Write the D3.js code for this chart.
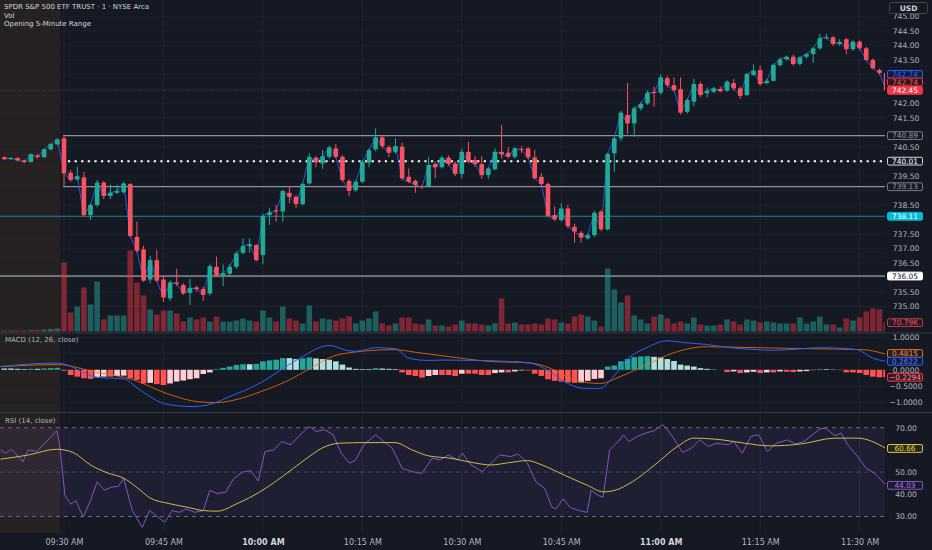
<!DOCTYPE html>
<html>
<head>
<meta charset="utf-8">
<title>SPY 1m</title>
<script src="https://cdn.jsdelivr.net/npm/d3@7/dist/d3.min.js"></script>
<style>
  html, body { margin: 0; padding: 0; background: #151924; overflow: hidden; }
  svg { display: block; }
</style>
</head>
<body>
<svg id="chart"></svg>
<script>
// minute offset from 09:30 (premarket = negative)
var minutes = d3.range(-9, 125);

var opens = [740.15, 740.08, 740.12, 740.04, 739.98, 740.20, 740.15, 740.42, 740.59,
  740.80, 739.61, 739.38, 739.45, 738.15, 738.50, 739.27, 738.81, 738.92, 738.94,
  739.22, 737.40, 736.97, 735.93, 736.60, 735.93, 735.28, 735.83, 735.74, 735.47,
  735.66, 735.60, 735.45, 736.37, 736.08, 736.13, 736.37, 736.85, 737.08, 737.12,
  736.77, 738.15, 738.32, 738.27, 738.92, 738.78, 738.53, 739.24, 740.13, 739.93,
  740.16, 740.45, 740.16, 739.33, 739.01, 739.30, 739.96, 740.42, 740.83, 740.49,
  740.33, 740.51, 739.47, 739.33, 739.15, 739.15, 739.91, 739.80, 740.13, 739.93,
  739.57, 740.33, 740.05, 739.91, 739.53, 739.73, 740.33, 740.30, 740.16, 740.43,
  740.45, 740.14, 739.47, 739.22, 738.15, 737.98, 738.38, 737.75, 737.54, 737.35,
  737.46, 738.27, 737.66, 740.28, 740.80, 741.60, 741.31, 741.83, 742.00, 742.40,
  742.37, 742.87, 742.63, 742.49, 741.71, 742.06, 742.67, 742.35, 742.40, 742.50,
  742.44, 742.70, 742.52, 742.29, 742.98, 743.15, 742.70, 742.78, 743.32, 743.52,
  743.61, 743.36, 743.61, 743.70, 743.90, 744.25, 744.28, 744.05, 744.21, 743.87,
  744.13, 743.90, 743.50, 743.15, 743.05];

var highs = [740.18, 740.14, 740.15, 740.06, 740.28, 740.26, 740.45, 740.62, 740.80,
  740.89, 739.70, 739.82, 739.64, 738.55, 739.36, 739.32, 739.20, 739.20, 739.30,
  739.25, 737.92, 737.10, 736.75, 736.95, 736.05, 735.90, 736.30, 735.80, 735.95,
  735.72, 735.68, 736.45, 736.72, 736.45, 736.45, 736.90, 737.35, 737.35, 737.15,
  738.20, 738.39, 738.50, 739.03, 739.13, 738.85, 739.28, 740.28, 740.18, 740.40,
  740.55, 740.60, 740.22, 739.40, 739.35, 740.05, 740.45, 741.14, 740.90, 740.55,
  740.80, 740.65, 739.76, 739.38, 739.20, 740.16, 739.98, 740.20, 740.20, 740.00,
  740.45, 740.68, 740.18, 740.18, 739.80, 740.45, 741.26, 740.50, 740.50, 740.52,
  740.50, 740.40, 739.60, 739.28, 738.45, 738.55, 738.50, 737.85, 737.60, 737.52,
  738.30, 738.32, 740.30, 740.85, 741.75, 742.71, 741.90, 742.05, 742.45, 742.58,
  743.00, 742.95, 742.90, 742.90, 742.18, 742.85, 742.75, 742.55, 742.58, 742.58,
  742.80, 742.85, 742.58, 743.05, 743.35, 743.30, 742.85, 743.38, 743.58, 743.65,
  743.68, 743.62, 743.75, 743.95, 744.40, 744.40, 744.33, 744.22, 744.26, 744.18,
  744.18, 743.95, 743.55, 743.20, 743.08];

var lows = [740.05, 740.05, 740.00, 739.94, 739.96, 740.10, 740.12, 740.38, 740.55,
  739.13, 739.30, 739.33, 738.10, 737.98, 738.42, 738.70, 738.70, 738.88, 738.90,
  737.38, 736.85, 735.85, 735.80, 735.85, 735.16, 735.20, 735.70, 735.40, 735.05,
  735.52, 735.20, 735.38, 736.02, 735.70, 736.05, 736.30, 736.80, 736.85, 736.55,
  736.45, 737.81, 737.92, 737.92, 738.56, 738.40, 738.48, 739.20, 739.80, 739.75,
  740.10, 740.12, 739.30, 738.81, 738.95, 739.25, 739.80, 740.35, 740.45, 740.15,
  740.28, 739.35, 739.25, 738.92, 739.05, 739.10, 739.42, 739.75, 739.85, 739.50,
  739.42, 739.95, 739.82, 739.40, 739.40, 739.70, 740.10, 740.10, 740.10, 740.30,
  740.08, 739.38, 739.15, 738.08, 737.95, 737.92, 737.70, 737.20, 737.20, 737.30,
  737.40, 737.60, 737.62, 739.64, 740.70, 740.95, 740.85, 741.75, 741.95, 741.89,
  742.30, 742.55, 742.40, 741.62, 741.65, 741.90, 742.22, 742.20, 742.35, 742.38,
  742.40, 742.45, 742.15, 742.25, 742.95, 742.60, 742.65, 742.75, 743.28, 743.48,
  743.30, 743.30, 743.55, 743.40, 743.85, 744.20, 743.98, 743.98, 743.70, 743.82,
  743.85, 743.45, 743.18, 742.98, 742.40];

var closes = [740.08, 740.12, 740.04, 739.98, 740.25, 740.15, 740.42, 740.60, 740.76,
  739.59, 739.36, 739.49, 738.15, 738.50, 739.27, 738.81, 738.92, 738.98, 739.24,
  737.43, 736.92, 735.89, 736.60, 735.89, 735.31, 735.83, 735.78, 735.45, 735.64,
  735.60, 735.40, 736.39, 736.08, 736.15, 736.37, 736.83, 737.08, 737.15, 736.60,
  738.12, 738.25, 738.28, 738.98, 738.78, 738.53, 739.22, 740.16, 739.97, 740.18,
  740.48, 740.16, 739.36, 738.99, 739.30, 739.99, 740.39, 740.83, 740.53, 740.30,
  740.53, 739.42, 739.30, 739.19, 739.12, 739.88, 739.80, 740.13, 739.91, 739.57,
  740.33, 739.99, 739.91, 739.53, 739.76, 740.33, 740.25, 740.16, 740.45, 740.40,
  740.14, 739.42, 739.22, 738.12, 738.00, 738.38, 737.77, 737.58, 737.38, 737.46,
  738.23, 737.66, 740.26, 740.80, 741.68, 741.31, 741.83, 741.98, 742.37, 742.36,
  742.90, 742.63, 742.46, 741.68, 742.12, 742.67, 742.29, 742.44, 742.52, 742.42,
  742.75, 742.52, 742.26, 743.01, 743.13, 742.67, 742.78, 743.33, 743.52, 743.61,
  743.36, 743.59, 743.70, 743.90, 744.25, 744.28, 744.05, 744.12, 743.87, 744.13,
  743.90, 743.50, 743.21, 743.05, 742.45];

// volume in thousands
var volumes = [8, 8, 8, 8, 10, 12, 16, 20, 24,
  552, 152, 200, 352, 216, 400, 96, 128, 128, 128,
  648, 392, 288, 176, 136, 168, 168, 144, 80, 112,
  96, 112, 80, 120, 80, 80, 88, 104, 88, 80,
  168, 112, 80, 200, 104, 88, 64, 208, 80, 104,
  96, 88, 104, 120, 64, 88, 104, 160, 64, 48,
  64, 112, 112, 64, 56, 96, 48, 48, 40, 56,
  88, 64, 64, 56, 48, 64, 264, 64, 72, 56,
  56, 64, 56, 104, 96, 72, 64, 120, 136, 120,
  88, 40, 504, 336, 232, 288, 128, 96, 64, 120,
  136, 104, 64, 80, 64, 112, 56, 48, 48, 56,
  96, 80, 56, 96, 88, 72, 80, 72, 64, 64,
  64, 112, 64, 80, 120, 56, 56, 32, 104, 88,
  112, 160, 184, 176, 70.79];

// MACD histogram, one per bar
var macdHist = [0.04, 0.04, 0.03, 0.02, 0.03, 0.03, 0.04, 0.05, 0.06,
  -0.03, -0.16, -0.21, -0.26, -0.28, -0.23, -0.21, -0.21, -0.19, -0.18,
  -0.26, -0.31, -0.42, -0.40, -0.44, -0.47, -0.42, -0.36, -0.33, -0.29,
  -0.26, -0.13, -0.08, 0.02, 0.06, 0.10, 0.15, 0.17, 0.17, 0.18,
  0.26, 0.29, 0.31, 0.36, 0.36, 0.33, 0.35, 0.38, 0.35, 0.33,
  0.31, 0.26, 0.16, 0.07, 0.03, 0.02, 0.02, 0.05, 0.04, 0.03,
  0.02, -0.08, -0.16, -0.19, -0.24, -0.19, -0.16, -0.16, -0.16, -0.19,
  -0.12, -0.12, -0.12, -0.16, -0.16, -0.10, -0.08, -0.08, -0.05, -0.02,
  -0.02, -0.12, -0.19, -0.29, -0.34, -0.36, -0.39, -0.40, -0.39, -0.34,
  -0.28, -0.26, 0.10, 0.13, 0.26, 0.33, 0.39, 0.41, 0.42, 0.40,
  0.38, 0.33, 0.27, 0.16, 0.13, 0.10, 0.05, 0.03, 0.01, 0.00,
  -0.07, -0.05, -0.10, -0.08, -0.06, -0.10, -0.08, -0.08, -0.05, -0.06,
  -0.07, -0.05, -0.04, -0.01, 0.02, 0.02, 0.01, -0.01, -0.08, -0.08,
  -0.10, -0.16, -0.21, -0.23, -0.23];

// MACD / signal read as points (minute offset, value)
var macdMinute = [-9.6, -1, 5, 9, 11.5, 15.5, 19.5, 21.5, 25.5, 29, 32, 35.6, 40, 42.6, 44, 47, 50, 52, 54.7, 57.5,
  61.7, 66.8, 70.3, 72.8, 75.8, 78.3, 80.8, 82.9, 84.9, 87.9, 90.9, 93.9, 96.9, 100.5, 104.5, 107, 114.5, 119.6, 122, 124];
var macdValue = [0.10, 0.21, -0.23, -0.28, -0.63, -1.06, -1.13, -1.09, -0.78, -0.47, -0.10, 0.36, 0.75, 0.60, 0.57, 0.68, 0.65, 0.36, 0.29, 0.30,
  0.29, 0.26, 0.21, 0.0, -0.40, -0.57, -0.57, -0.21, 0.31, 0.68, 0.89, 0.83, 0.78, 0.68, 0.62, 0.60, 0.68, 0.62, 0.36, 0.26];
var signalMinute = [-9.6, -1, 5, 10.5, 15.5, 20.5, 23, 25.5, 29.6, 34, 37.6, 40.6, 43.6, 49.7, 53, 57.5, 64.2, 70.3, 73.3, 76.9,
  80.8, 83.9, 87.9, 91.9, 96.9, 104.5, 112, 120.5, 124];
var signalValue = [0.10, 0.16, -0.08, -0.31, -0.73, -0.99, -1.01, -0.94, -0.68, -0.31, 0.10, 0.42, 0.54, 0.62, 0.54, 0.42, 0.26, 0.21, 0.05, -0.31,
  -0.42, -0.21, 0.16, 0.52, 0.71, 0.68, 0.65, 0.62, 0.48];

// RSI and its moving average
var rsiMinute = [-9.6, -8.8, -7.9, -7.1, -6.2, -5.4, -4.1, -2.9, -1.1, -0.7, 0.15, 1.0, 1.8, 2.9, 4.0, 5.0, 6.1, 7.2, 8.2, 9.0,
  10.3, 11.8, 12.9, 14.2, 15.2, 16.3, 17.4, 18.4, 19.7, 21.0, 22.0, 23.1, 24.4, 25.6, 27.0, 28.2, 29.3, 30.3, 31.6, 32.9,
  34.2, 35.4, 37.0, 38.0, 39.3, 40.6, 41.8, 43.1, 44.0, 45.2, 47.0, 48.2, 49.5, 51.0, 52.5, 54.0, 55.5, 56.7, 58.0, 59.3,
  60.1, 61.4, 63.1, 64.4, 65.7, 67.4, 68.5, 69.9, 71.2, 72.5, 73.6, 74.2, 75.3, 76.3, 77.6, 78.9, 79.5, 80.6, 81.3, 82.3,
  83.6, 84.4, 85.2, 86.5, 87.8, 89.1, 90.3, 91.6, 93.3, 94.6, 95.9, 97.2, 98.4, 100.2, 101.0, 102.3, 103.6, 104.8, 106.1, 107.4,
  109.1, 110.4, 111.6, 112.9, 114.2, 115.0, 116.3, 117.2, 118.4, 119.7, 121.0, 122.3, 124];
var rsiValue = [60, 58.5, 60.3, 57.7, 54.7, 60, 59.3, 63, 68.6, 63, 39.4, 35.6, 37.1, 29.7, 37.3, 45.6, 41.8, 43.3, 43.6, 47.1,
  32.7, 25.1, 32.7, 29.7, 27.4, 32.7, 31.9, 33.4, 31.9, 32.7, 41.8, 40.3, 41, 47.1, 50.1, 50.6, 46, 59.2, 60, 63.8,
  62.3, 66.1, 70.6, 68.3, 69.1, 66.8, 58.5, 54, 55.5, 62.3, 66.8, 63.8, 60.8, 51.7, 50.2, 49.4, 56.2, 55.5, 57.7, 55.5,
  58.5, 53.2, 50.2, 54, 57.7, 57, 58.2, 54, 45.6, 42.6, 34.2, 33.5, 38, 34.2, 32.7, 31.9, 41.8, 39.5, 38.7, 60,
  63.8, 66.8, 63.8, 66.1, 67.6, 68.8, 71.4, 66.8, 58.8, 60.8, 64.5, 61.5, 63, 62.3, 63.8, 58.5, 66.1, 66.8, 59.2, 63,
  64.5, 62.7, 63.8, 66.8, 69.8, 69.4, 66.4, 67.6, 61.5, 57, 51.7, 49.4, 44.03];
var rsiMaMinute = [-9.6, -5.4, -1.1, 1.4, 4.0, 6.5, 9.1, 11.2, 12.9, 15.9, 18.4, 21.0, 23.1, 26.1, 29.5, 32.9, 36.3, 38.9, 41.4, 45.7,
  49.9, 52.5, 55.0, 58.4, 61.8, 64.4, 67.0, 69.9, 72.1, 75.5, 78.9, 81.4, 83.1, 85.7, 89.1, 92.5, 95.0, 99.3, 102.7, 106.5,
  111.2, 116.3, 119.7, 124];
var rsiMaValue = [55.8, 57.7, 60.3, 58.8, 53.2, 49.7, 47.1, 42.6, 38.5, 35.8, 34.3, 32.7, 32.4, 35.8, 41, 47.9, 55.5, 60.8, 63, 63.3,
  63.3, 60, 57.3, 56.2, 54.2, 53.2, 54.2, 55.2, 53.2, 48.6, 44.1, 41.1, 41.8, 45.6, 53.2, 61.5, 65.3, 64.5, 63, 61.8,
  62.7, 65.3, 65.3, 60.66];

// axis ticks
var timeTicks = [0, 15, 30, 45, 60, 75, 90, 105, 120];
var timeLabels = ["09:30 AM", "09:45 AM", "10:00 AM", "10:15 AM", "10:30 AM", "10:45 AM", "11:00 AM", "11:15 AM", "11:30 AM"];
var priceTicks = [745, 744.5, 744, 743.5, 743, 742.5, 742, 741.5, 741, 740.5, 740, 739.5, 739, 738.5, 738, 737.5, 737, 736.5, 736, 735.5, 735, 734.5];
var macdTicks = [1, 0.5, 0, -0.5, -1];
var rsiTicks = [70, 60, 50, 40, 30];

// opening range / levels
var rangeHigh = 740.89, rangeMid = 740.01, rangeLow = 739.13;
var levelCyan = 738.11, levelWhite = 736.05;
var priceLabelValues = [742.74, 742.74, 742.45, 740.89, 740.01, 739.13, 738.11, 736.05];
var macdLabelValues = [0.4815, 0.2622, -0.2294];
var rsiLabelValues = [60.66, 44.03];

var titleLines = ["SPDR S&P 500 ETF TRUST · 1 · NYSE Arca", "Vol", "Opening 5-Minute Range"];

var chartView = {

	svg : null,
	width : 932,
	height : 550,
	plotRight : 885,
	font : "DejaVu Sans, Liberation Sans, sans-serif",

	/**
	 * y positions of the value tags, used to hide the tick labels under them
	 */
	tagYs : [],

	colors : {
		bg : "#151924",
		up : "#22ab94",
		down : "#f7525f",
		axisText : "#b2b5be",
		grid : "#1d212c",
		sep : "#363a45"
	},

	init : function(id) {
		var that = this;
		that.svg = d3.select(id).attr("width", that.width).attr("height", that.height);

		that.x = d3.scaleLinear().domain([0, 120]).range([64, 859.6]);
		that.yPrice = d3.scaleLinear().domain([735, 745]).range([306.5, 16.4]);
		that.yVol = d3.scaleLinear().domain([0, 700]).range([331.5, 244]);
		that.yMacd = d3.scaleLinear().domain([-1, 1]).range([402.3, 337.3]);
		that.yRsi = d3.scaleLinear().domain([30, 70]).range([516.5, 427.7]);

		that.bars = minutes.map(function(m, i) {
			return { m : m, o : opens[i], h : highs[i], l : lows[i], c : closes[i], v : volumes[i], hist : macdHist[i] };
		});
	},

	draw : function() {
		var that = this;
		that.drawBg();
		that.drawPrice();
		that.drawMacd();
		that.drawRsi();
		that.drawLabels();
		that.drawAxes();
		that.drawTitles();
	},

	drawBg : function() {
		var that = this;
		that.drawRect(that.svg, 0, 0, that.width, that.height, that.colors.bg);

		var defs = that.svg.append("defs");
		defs.append("clipPath").attr("id", "clipPlot")
			.append("rect").attr("x", 0).attr("y", 0).attr("width", that.plotRight).attr("height", 533);

		// premarket session shading
		that.drawRect(that.svg, 0, 0, that.x(-0.55), 533, "rgba(255,152,0,0.075)");

		// grid
		timeTicks.forEach(function(t) {
			that.drawLine(that.svg, that.x(t), 0, that.x(t), 533, "#20242f");
		});
		priceTicks.forEach(function(p) {
			if (p >= 735) that.drawLine(that.svg, 0, that.yPrice(p), that.plotRight, that.yPrice(p), that.colors.grid);
		});
		macdTicks.forEach(function(v) {
			that.drawLine(that.svg, 0, that.yMacd(v), that.plotRight, that.yMacd(v), that.colors.grid);
		});
	},

	drawPrice : function() {
		var that = this;
		var x = that.x, y = that.yPrice, yVol = that.yVol;
		var g = that.svg.append("g").attr("clip-path", "url(#clipPlot)");

		// levels
		that.drawLine(g, 0, y(levelCyan), that.plotRight, y(levelCyan), "#138a9a", 1);
		that.drawLine(g, 0, y(levelWhite), that.plotRight, y(levelWhite), "#c3c5cc", 1);
		that.drawLine(g, x(-0.15), y(rangeHigh), that.plotRight, y(rangeHigh), "#8f929b", 1.2);
		that.drawLine(g, x(-0.15), y(rangeLow), that.plotRight, y(rangeLow), "#8f929b", 1.2);
		that.drawLine(g, 0, y(closes[closes.length - 1]), that.plotRight, y(closes[closes.length - 1]), "rgba(200,90,100,0.4)", 1)
			.attr("stroke-dasharray", "1,2");

		// volume
		g.selectAll("rect.vol").data(that.bars).enter().append("rect")
			.attr("class", "vol")
			.attr("x", function(d) { return x(d.m) - 2.8; })
			.attr("width", 5.6)
			.attr("y", function(d) { return yVol(d.v); })
			.attr("height", function(d) { return yVol(0) - yVol(d.v); })
			.attr("fill", function(d) { return d.c >= d.o ? "rgba(38,166,154,0.5)" : "rgba(242,54,69,0.48)"; });

		// mid line of opening range (dotted)
		that.drawLine(g, x(0.6), y(rangeMid), that.plotRight, y(rangeMid), "#ffffff", 2)
			.attr("stroke-dasharray", "2.2,4.4");

		// close line
		g.append("path").datum(that.bars)
			.attr("d", d3.line().x(function(d) { return x(d.m); }).y(function(d) { return y(d.c); }))
			.attr("fill", "none").attr("stroke", "#2962ff").attr("stroke-width", 1).attr("opacity", 0.85);

		// candles
		var c = g.selectAll("g.candle").data(that.bars).enter().append("g").attr("class", "candle");
		c.append("line")
			.attr("x1", function(d) { return x(d.m); }).attr("x2", function(d) { return x(d.m); })
			.attr("y1", function(d) { return y(d.h); }).attr("y2", function(d) { return y(d.l); })
			.attr("stroke", function(d) { return d.c >= d.o ? that.colors.up : that.colors.down; })
			.attr("stroke-width", 1);
		c.append("rect")
			.attr("x", function(d) { return x(d.m) - 2.3; })
			.attr("width", 4.6)
			.attr("y", function(d) { return y(Math.max(d.o, d.c)); })
			.attr("height", function(d) { return Math.max(1, Math.abs(y(d.o) - y(d.c))); })
			.attr("fill", function(d) { return d.c >= d.o ? that.colors.up : that.colors.down; });
	},

	drawMacd : function() {
		var that = this;
		var x = that.x, y = that.yMacd;
		var g = that.svg.append("g").attr("clip-path", "url(#clipPlot)");

		g.selectAll("rect.hist").data(that.bars).enter().append("rect")
			.attr("class", "hist")
			.attr("x", function(d) { return x(d.m) - 2.8; })
			.attr("width", 5.6)
			.attr("y", function(d) { return Math.min(y(0), y(d.hist)); })
			.attr("height", function(d) { return Math.abs(y(0) - y(d.hist)); })
			.attr("fill", function(d, i) {
				var prev = i > 0 ? that.bars[i - 1].hist : d.hist;
				if (d.hist >= 0) return prev < d.hist ? "#26a69a" : "#b2dfdb";
				return prev < d.hist ? "#ffcdd2" : "#ff5252";
			});

		var line = d3.line().curve(d3.curveMonotoneX).x(function(d) { return x(d[0]); }).y(function(d) { return y(d[1]); });
		g.append("path").datum(d3.zip(signalMinute, signalValue)).attr("d", line)
			.attr("fill", "none").attr("stroke", "#ff6d00").attr("stroke-width", 1).attr("opacity", 0.8);
		g.append("path").datum(d3.zip(macdMinute, macdValue)).attr("d", line)
			.attr("fill", "none").attr("stroke", "#2962ff").attr("stroke-width", 1);
	},

	drawRsi : function() {
		var that = this;
		var x = that.x, y = that.yRsi;
		var g = that.svg.append("g").attr("clip-path", "url(#clipPlot)");

		that.drawRect(g, 0, y(70), that.plotRight, y(30) - y(70), "rgba(126,87,194,0.1)");
		that.drawLine(g, 0, y(70), that.plotRight, y(70), "#6a6d78", 1).attr("stroke-dasharray", "4,4");
		that.drawLine(g, 0, y(50), that.plotRight, y(50), "rgba(120,123,134,0.45)", 1).attr("stroke-dasharray", "4,4");
		that.drawLine(g, 0, y(30), that.plotRight, y(30), "#6a6d78", 1).attr("stroke-dasharray", "4,4");

		g.append("path").datum(d3.zip(rsiMinute, rsiValue))
			.attr("d", d3.line().x(function(d) { return x(d[0]); }).y(function(d) { return y(d[1]); }))
			.attr("fill", "none").attr("stroke", "#7e57c2").attr("stroke-width", 1);
		g.append("path").datum(d3.zip(rsiMaMinute, rsiMaValue))
			.attr("d", d3.line().curve(d3.curveMonotoneX).x(function(d) { return x(d[0]); }).y(function(d) { return y(d[1]); }))
			.attr("fill", "none").attr("stroke", "#e8d84a").attr("stroke-width", 1).attr("opacity", 0.85);
	},

	drawAxes : function() {
		var that = this;

		// pane separators
		that.drawLine(that.svg, 0, 333, that.width, 333, that.colors.sep, 1);
		that.drawLine(that.svg, 0, 412.5, that.width, 412.5, that.colors.sep, 1);

		var style = function(g) {
			g.select(".domain").remove();
			g.selectAll("text").attr("fill", that.colors.axisText).attr("font-family", that.font).attr("font-size", 7.6);
		};
		// tick labels sitting under a value tag are hidden, as on the reference
		var freeOf = function(scale) {
			return function(v) {
				var yy = scale(v);
				return that.tagYs.every(function(t) { return Math.abs(t - yy) > 7; });
			};
		};

		that.svg.append("g").attr("transform", "translate(906,0)")
			.call(d3.axisRight(that.yPrice).tickValues(priceTicks.filter(freeOf(that.yPrice))).tickFormat(d3.format(".2f")).tickSize(0).tickPadding(0))
			.call(style).selectAll("text").attr("text-anchor", "middle");
		that.svg.append("g").attr("transform", "translate(906,0)")
			.call(d3.axisRight(that.yMacd).tickValues(macdTicks.filter(freeOf(that.yMacd))).tickFormat(d3.format(".4f")).tickSize(0).tickPadding(0))
			.call(style).selectAll("text").attr("text-anchor", "middle");
		that.svg.append("g").attr("transform", "translate(906,0)")
			.call(d3.axisRight(that.yRsi).tickValues(rsiTicks.filter(freeOf(that.yRsi))).tickFormat(d3.format(".2f")).tickSize(0).tickPadding(0))
			.call(style).selectAll("text").attr("text-anchor", "middle");

		var xa = that.svg.append("g").attr("transform", "translate(0,539.5)")
			.call(d3.axisBottom(that.x).tickValues(timeTicks).tickFormat(function(d, i) { return timeLabels[i]; }).tickSize(0).tickPadding(0))
			.call(style);
		xa.selectAll("text").attr("font-size", 8)
			.attr("font-weight", function(d) { return d % 60 === 30 ? "bold" : "normal"; })
			.attr("fill", function(d) { return d % 60 === 30 ? "#d1d4dc" : that.colors.axisText; });

		// currency box
		that.drawRect(that.svg, 889.5, 2.5, 38, 11, that.colors.bg, "#434651").attr("rx", 2);
		that.drawText(that.svg, 908.5, 10.7, "USD", 7.5, "middle", "#d1d4dc", "bold");
	},

	/**
	 * push tag positions apart from the bottom up
	 */
	spread : function(ys, gap) {
		for (var i = ys.length - 2; i >= 0; i--) {
			if (ys[i] > ys[i + 1] - gap) ys[i] = ys[i + 1] - gap;
		}
		return ys;
	},

	drawLabels : function() {
		var that = this;
		// style per price label: [stroke, fill, text]
		var priceStyles = [
			["#2962ff", "#161c33", "#2962ff"],
			["#f23645", "#2a1820", "#f7525f"],
			["#f23645", "#f23645", "#ffffff"],
			["#787b86", that.colors.bg, "#9598a1"],
			["#d1d4dc", that.colors.bg, "#ffffff"],
			["#787b86", that.colors.bg, "#9598a1"],
			["#00bcd4", "#00bcd4", "#ffffff"],
			["#ffffff", "#ffffff", "#131722"]
		];
		var ys = that.spread(priceLabelValues.map(function(v) { return that.yPrice(v); }), 7.6);
		priceLabelValues.forEach(function(v, i) {
			that.drawTag(ys[i], v.toFixed(2), priceStyles[i]);
		});

		var lastVol = volumes[volumes.length - 1];
		that.drawTag(that.yVol(lastVol), lastVol.toFixed(2) + "K", ["#b7404c", "#2a1820", "#f7525f"]);

		var macdStyles = [
			["#e0702a", "#231d1e", "#ff8a3d"],
			["#2962ff", "#161c33", "#4d7cff"],
			["#f23645", "#3a1822", "#ff8a94"]
		];
		var mys = that.spread(macdLabelValues.map(function(v) { return that.yMacd(v); }), 7.8);
		macdLabelValues.forEach(function(v, i) {
			that.drawTag(mys[i], d3.format(".4f")(v), macdStyles[i]);
		});

		var rsiStyles = [
			["#d8c84a", "#252519", "#e8d84a"],
			["#7e57c2", "#1d1a30", "#9b7ee0"]
		];
		rsiLabelValues.forEach(function(v, i) {
			that.drawTag(that.yRsi(v), v.toFixed(2), rsiStyles[i]);
		});
	},

	drawTag : function(y, text, style) {
		var that = this;
		that.tagYs.push(y);
		that.drawRect(that.svg, 887.5, y - 3.9, 35, 7.8, style[1], style[0]).attr("rx", 1.5);
		that.drawText(that.svg, 905, y + 2.7, text, 7.4, "middle", style[2]);
	},

	drawTitles : function() {
		var that = this;
		titleLines.forEach(function(t, i) {
			that.drawText(that.svg, 4, 9 + i * 8.6, t, 7, "start", "#d1d4dc");
		});
		that.drawText(that.svg, 5, 342, "MACD (12, 26, close)", 7, "start", that.colors.axisText);
		that.drawText(that.svg, 5, 423.3, "RSI (14, close)", 7, "start", that.colors.axisText);
	},

	drawLine : function(node, x1, y1, x2, y2, color, width) {
		return node.append("line").attr("x1", x1).attr("y1", y1).attr("x2", x2).attr("y2", y2)
			.attr("stroke", color).attr("stroke-width", width || 1);
	},

	drawRect : function(node, x, y, width, height, fill, stroke) {
		var r = node.append("rect").attr("x", x).attr("y", y).attr("width", width).attr("height", height).attr("fill", fill);
		if (stroke) r.attr("stroke", stroke).attr("stroke-width", 1);
		return r;
	},

	drawText : function(node, x, y, text, size, anchor, fill, weight) {
		return node.append("text").attr("x", x).attr("y", y).attr("fill", fill).attr("font-size", size)
			.attr("text-anchor", anchor).attr("font-family", this.font).attr("font-weight", weight || "normal").text(text);
	}
};

chartView.init("#chart");
chartView.draw();
</script>
</body>
</html>
